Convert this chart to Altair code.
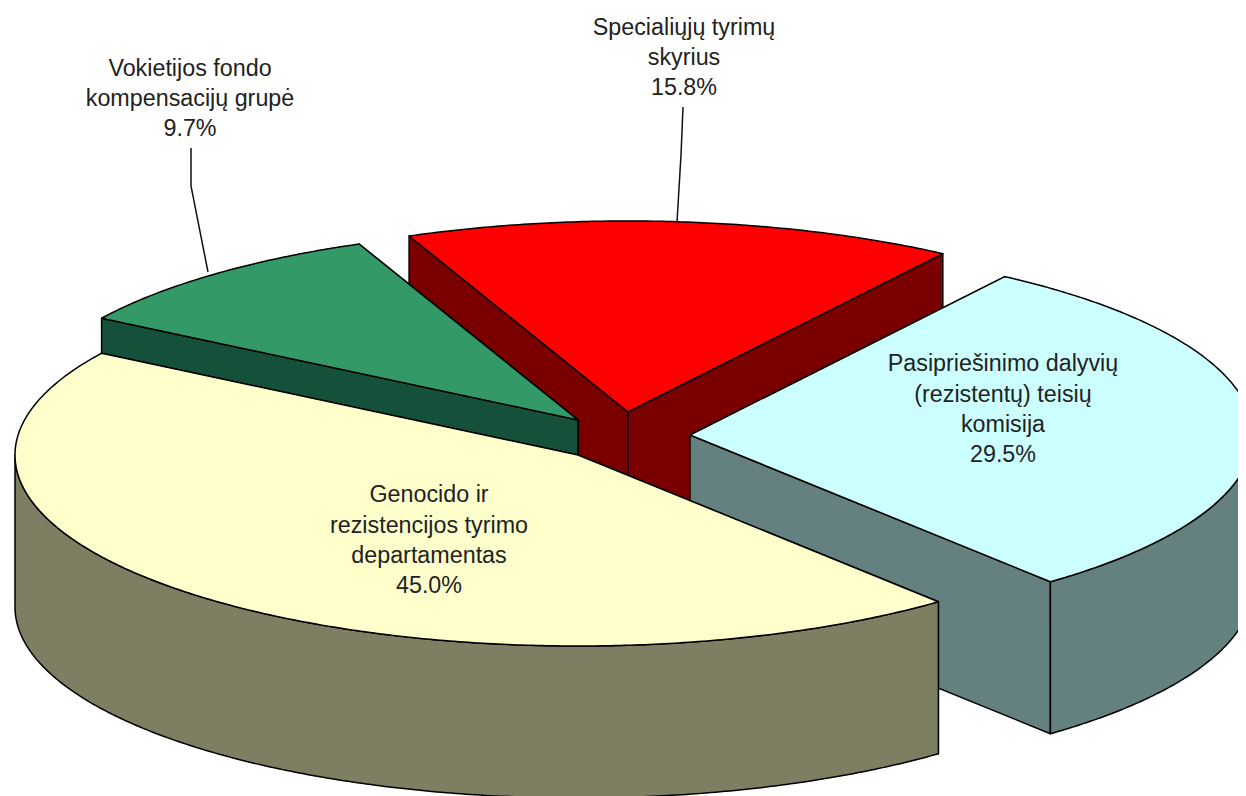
import math
import altair as alt
import pandas as pd

# slice shares (percent), in drawing order round the pie
names = ["Genocido ir rezistencijos tyrimo departamentas", "Vokietijos fondo kompensacijų grupė",
         "Specialiųjų tyrimų skyrius", "Pasipriešinimo dalyvių (rezistentų) teisių komisija"]
shares = [45.0, 9.7, 15.8, 29.5]
top_colors = ["#FFFFCC", "#339966", "#FF0000", "#CCFFFF"]
side_colors = ["#7E7E62", "#14503A", "#7A0000", "#64807F"]
# chart styling: explode centres and extrusion depth of the pie
centres = [(578, 455), (578, 420), (628, 412), (690, 435)]
depth = 152
first_angle = 50.2
rx, ry = 563, 191
paint_order = [2, 3, 1, 0]

label_lines = [
    (["Genocido ir", "rezistencijos tyrimo", "departamentas", "45.0%"], 429, [495, 526, 556, 586]),
    (["Vokietijos fondo", "kompensacijų grupė", "9.7%"], 190, [69, 99, 129]),
    (["Specialiųjų tyrimų", "skyrius", "15.8%"], 684, [28, 58, 88]),
    (["Pasipriešinimo dalyvių", "(rezistentų) teisių", "komisija", "29.5%"], 1003, [364, 395, 425, 455]),
]
leaders = [
    [(191, 148), (191, 186), (208, 272)],
    [(683, 107), (681, 155), (677, 222)],
]

xs = alt.Scale(domain=[8, 1238], range=[0, 1230], nice=False, zero=False)
ys = alt.Scale(domain=[8, 796], range=[0, 788], nice=False, zero=False)
X = alt.X("x:Q", scale=xs, axis=None)
Y = alt.Y("y:Q", scale=ys, axis=None)


def poly(points, fill):
    pts = list(points) + [points[0]]
    df = pd.DataFrame({"x": [p[0] for p in pts], "y": [p[1] for p in pts], "i": range(len(pts))})
    return alt.Chart(df).mark_line(fill=fill, stroke="#000000", strokeWidth=1.5,
                                   strokeJoin="round", clip=False).encode(
        x=X, y=Y, order="i:Q")


def rim(c, a):
    r = math.radians(a)
    return (c[0] + rx * math.cos(r), c[1] + ry * math.sin(r))


def arc(c, a0, a1, dy=0):
    n = max(2, int(abs(a1 - a0)) * 2)
    out = []
    for k in range(n + 1):
        p = rim(c, a0 + (a1 - a0) * k / n)
        out.append((p[0], p[1] + dy))
    return out


spans = []
a = first_angle
for s in shares:
    spans.append((a, a + s * 3.6))
    a += s * 3.6

layers = []
for idx in paint_order:
    a0, a1 = spans[idx]
    c = centres[idx]
    side, top = side_colors[idx], top_colors[idx]
    # radial cut faces, the one further back first
    for p in sorted((rim(c, a0), rim(c, a1)), key=lambda q: q[1]):
        layers.append(poly([c, p, (p[0], p[1] + depth), (c[0], c[1] + depth)], side))
    # front part of the rim (angles where the rim faces the viewer)
    for base in (0, 360):
        f0, f1 = max(a0, base), min(a1, base + 180)
        if f1 > f0:
            layers.append(poly(arc(c, f0, f1) + arc(c, f1, f0, depth), side))
    layers.append(poly([c] + arc(c, a0, a1), top))

for line in leaders:
    df = pd.DataFrame({"x": [p[0] for p in line], "y": [p[1] for p in line], "i": range(len(line))})
    layers.append(alt.Chart(df).mark_line(color="#111111", strokeWidth=1.5).encode(x=X, y=Y, order="i:Q"))

rows = []
for lines, cx, ypos in label_lines:
    for t, yy in zip(lines, ypos):
        rows.append({"t": t, "x": cx, "y": yy})
layers.append(alt.Chart(pd.DataFrame(rows)).mark_text(
    font="Liberation Sans", fontSize=23.3, color="#222222", align="center", baseline="middle"
).encode(x=X, y=Y, text="t:N"))

chart = alt.layer(*layers).properties(
    width=1230, height=788, padding=0, autosize=alt.AutoSizeParams(type="none"),
    background="white"
).configure_view(stroke=None)

chart.save("out.html", embed_options={"renderer": "svg", "actions": False})
